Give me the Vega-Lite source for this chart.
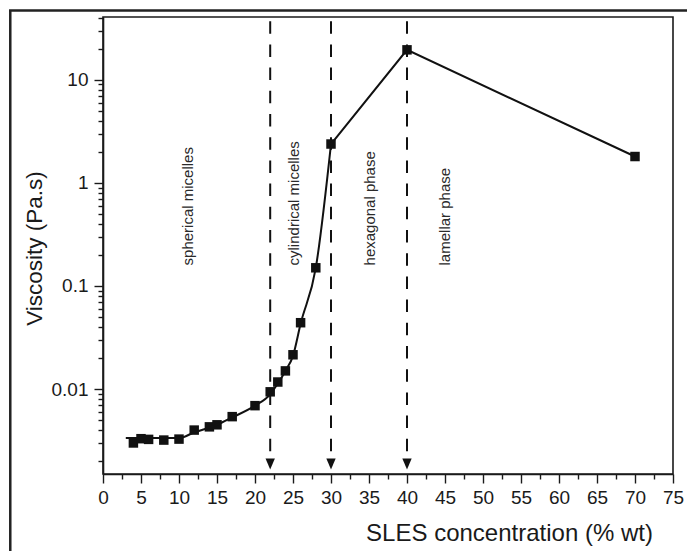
{
  "$schema": "https://vega.github.io/schema/vega-lite/v6.json",
  "width": 570,
  "height": 457,
  "autosize": {"type": "none"},
  "padding": {"left": 103, "top": 17, "right": 14, "bottom": 77},
  "background": "white",
  "resolve": {"axis": {"x": "independent", "y": "independent"}},
  "config": {
    "view": {"stroke": "#1a1a1a", "strokeWidth": 1.6},
    "font": "Liberation Sans",
    "axis": {
      "domainColor": "#1a1a1a", "domainWidth": 1.6,
      "tickColor": "#1a1a1a", "tickWidth": 1.4,
      "labelColor": "#1a1a1a", "titleColor": "#1a1a1a",
      "labelFont": "Liberation Sans", "titleFont": "Liberation Sans",
      "titleFontWeight": "normal", "grid": false, "labelFlush": false, "labelOverlap": false
    }
  },
  "datasets": {
    "measured": [
      {"conc": 4, "visc": 0.0030}, {"conc": 5, "visc": 0.0033}, {"conc": 6, "visc": 0.00325},
      {"conc": 8, "visc": 0.0032}, {"conc": 10, "visc": 0.00327}, {"conc": 12, "visc": 0.0040},
      {"conc": 14, "visc": 0.0043}, {"conc": 15, "visc": 0.0045}, {"conc": 17, "visc": 0.0054},
      {"conc": 20, "visc": 0.0069}, {"conc": 22, "visc": 0.0094}, {"conc": 23, "visc": 0.0117},
      {"conc": 24, "visc": 0.0150}, {"conc": 25, "visc": 0.0215}, {"conc": 26, "visc": 0.044},
      {"conc": 28, "visc": 0.15}, {"conc": 30, "visc": 2.38}, {"conc": 40, "visc": 19.5},
      {"conc": 70, "visc": 1.8}
    ],
    "fit": [
      {"conc": 3, "visc": 0.00335}, {"conc": 10, "visc": 0.00335}, {"conc": 12, "visc": 0.0038},
      {"conc": 15, "visc": 0.0045}, {"conc": 17, "visc": 0.0053}, {"conc": 20, "visc": 0.0069},
      {"conc": 22, "visc": 0.0089}, {"conc": 23, "visc": 0.0113}, {"conc": 24, "visc": 0.015},
      {"conc": 25, "visc": 0.021}, {"conc": 26, "visc": 0.043}, {"conc": 28, "visc": 0.15},
      {"conc": 30, "visc": 2.38}
    ],
    "upper": [
      {"conc": 30, "visc": 2.38}, {"conc": 40, "visc": 19.5}, {"conc": 70, "visc": 1.8}
    ],
    "boundaries": [{"conc": 22}, {"conc": 30}, {"conc": 40}],
    "phases": [
      {"conc": 11.2, "label": "spherical micelles"},
      {"conc": 25.1, "label": "cylindrical micelles"},
      {"conc": 35.1, "label": "hexagonal phase"},
      {"conc": 45.0, "label": "lamellar phase"}
    ]
  },
  "layer": [
    {
      "data": {"name": "measured"},
      "mark": {"type": "point", "shape": "square", "filled": true, "size": 90, "color": "#111111", "opacity": 1},
      "encoding": {
        "x": {
          "field": "conc", "type": "quantitative",
          "scale": {"domain": [0, 75], "nice": false, "zero": false},
          "axis": {
            "orient": "bottom",
            "values": [0, 2.5, 5, 7.5, 10, 12.5, 15, 17.5, 20, 22.5, 25, 27.5, 30, 32.5, 35, 37.5, 40, 42.5, 45, 47.5, 50, 52.5, 55, 57.5, 60, 62.5, 65, 67.5, 70, 72.5, 75],
            "labelExpr": "datum.value % 5 === 0 ? datum.label : ''",
            "format": "d",
            "tickSize": {"condition": {"test": "datum.value % 5 === 0", "value": 9}, "value": 5},
            "labelFontSize": 19, "labelPadding": 5,
            "title": "SLES concentration (% wt)", "titleFontSize": 24,
            "titleX": 406, "titleY": 66, "titleAlign": "center", "titleBaseline": "alphabetic"
          }
        },
        "y": {
          "field": "visc", "type": "quantitative",
          "scale": {"type": "log", "domain": [0.0015, 40.6], "nice": false},
          "axis": {
            "orient": "left",
            "values": [0.002, 0.003, 0.004, 0.005, 0.006, 0.007, 0.008, 0.009, 0.01, 0.02, 0.03, 0.04, 0.05, 0.06, 0.07, 0.08, 0.09, 0.1, 0.2, 0.3, 0.4, 0.5, 0.6, 0.7, 0.8, 0.9, 1, 2, 3, 4, 5, 6, 7, 8, 9, 10, 20, 30, 40],
            "format": "~g",
            "labelExpr": "abs(log(datum.value)/LN10 - round(log(datum.value)/LN10)) < 0.001 ? datum.label : ''",
            "tickSize": {"condition": {"test": "abs(log(datum.value)/LN10 - round(log(datum.value)/LN10)) < 0.001", "value": 9}, "value": 5},
            "labelFontSize": 19, "labelPadding": 6,
            "title": "Viscosity (Pa.s)", "titleFontSize": 22.5,
            "titleAngle": 270, "titleX": -69, "titleY": 231, "titleAlign": "center", "titleBaseline": "middle"
          }
        }
      }
    },
    {
      "data": {"name": "boundaries"},
      "mark": {"type": "rule", "color": "#111111", "strokeWidth": 2, "strokeDash": [12.5, 10.7], "strokeDashOffset": 19},
      "encoding": {
        "x": {"field": "conc", "type": "quantitative", "scale": {"domain": [0, 75], "nice": false, "zero": false}, "axis": null},
        "y": {"datum": 40.6, "type": "quantitative", "scale": {"type": "log", "domain": [0.0015, 40.6], "nice": false}, "axis": null},
        "y2": {"datum": 0.00245}
      }
    },
    {
      "data": {"name": "boundaries"},
      "mark": {"type": "point", "shape": "M-0.85,-1L0.85,-1L0,1Z", "filled": true, "size": 121, "color": "#111111", "opacity": 1},
      "encoding": {
        "x": {"field": "conc", "type": "quantitative", "scale": {"domain": [0, 75], "nice": false, "zero": false}, "axis": null},
        "y": {"datum": 0.00188, "type": "quantitative", "scale": {"type": "log", "domain": [0.0015, 40.6], "nice": false}, "axis": null}
      }
    },
    {
      "data": {"name": "fit"},
      "mark": {"type": "line", "interpolate": "monotone", "color": "#111111", "strokeWidth": 2},
      "encoding": {
        "x": {"field": "conc", "type": "quantitative", "scale": {"domain": [0, 75], "nice": false, "zero": false}, "axis": null},
        "y": {"field": "visc", "type": "quantitative", "scale": {"type": "log", "domain": [0.0015, 40.6], "nice": false}, "axis": null}
      }
    },
    {
      "data": {"name": "upper"},
      "mark": {"type": "line", "color": "#111111", "strokeWidth": 2},
      "encoding": {
        "x": {"field": "conc", "type": "quantitative", "scale": {"domain": [0, 75], "nice": false, "zero": false}, "axis": null},
        "y": {"field": "visc", "type": "quantitative", "scale": {"type": "log", "domain": [0.0015, 40.6], "nice": false}, "axis": null}
      }
    },
    {
      "data": {"name": "phases"},
      "mark": {"type": "text", "angle": 270, "align": "left", "baseline": "middle", "fontSize": 15, "color": "#2a2a2a", "font": "Liberation Sans"},
      "encoding": {
        "x": {"field": "conc", "type": "quantitative", "scale": {"domain": [0, 75], "nice": false, "zero": false}, "axis": null},
        "y": {"datum": 0.158, "type": "quantitative", "scale": {"type": "log", "domain": [0.0015, 40.6], "nice": false}, "axis": null},
        "text": {"field": "label"}
      }
    },
    {
      "data": {"values": [{}]},
      "mark": {"type": "rect", "fill": null, "fillOpacity": 0, "stroke": "#222222", "strokeWidth": 2.5, "clip": false},
      "encoding": {
        "x": {"datum": -12.2, "type": "quantitative", "scale": {"domain": [0, 75], "nice": false, "zero": false}, "axis": null},
        "x2": {"datum": 95},
        "y": {"datum": 46.9, "type": "quantitative", "scale": {"type": "log", "domain": [0.0015, 40.6], "nice": false}, "axis": null},
        "y2": {"datum": 0.00001}
      }
    }
  ]
}
